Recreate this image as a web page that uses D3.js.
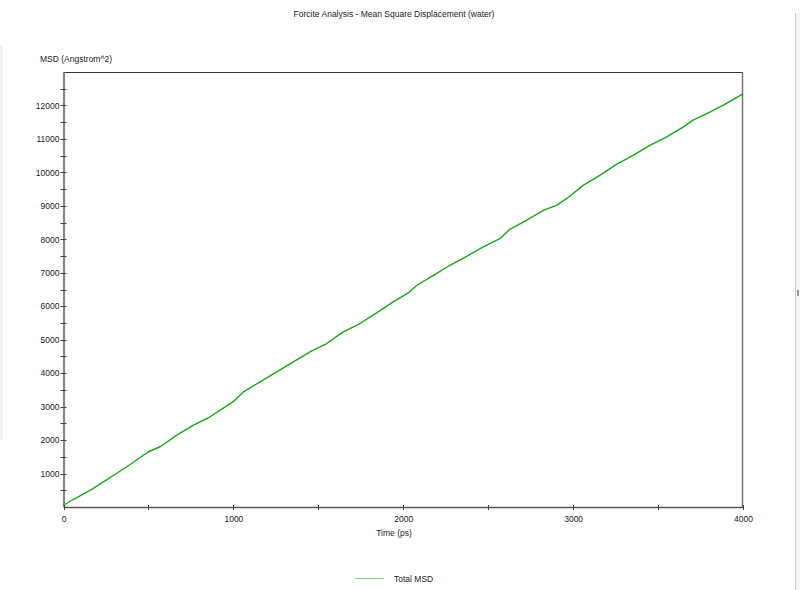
<!DOCTYPE html>
<html>
<head>
<meta charset="utf-8">
<script src="https://cdn.jsdelivr.net/npm/d3@7"></script>
<style>
  html, body { margin: 0; padding: 0; background: #fff; }
  svg text { font-family: "Liberation Sans", Arial, sans-serif; font-size: 8.5px; fill: #222; }
</style>
</head>
<body>
<div id="chart"></div>
<script>
(function(){
  "use strict";

  // values (time in ps, MSD in Angstrom^2)
  const timePs = [0, 176, 373, 500, 569, 667, 765, 863, 961, 1000, 1059, 1157, 1255, 1353,
                  1451, 1549, 1647, 1745, 1843, 1941, 2030, 2080, 2178, 2275, 2373, 2471,
                  2569, 2627, 2725, 2824, 2902, 2961, 3059, 3157, 3255, 3353, 3451, 3549,
                  3647, 3706, 3784, 3882, 4000];
  const msd = [60, 558, 1203, 1651, 1800, 2149, 2448, 2696, 3020, 3150, 3440, 3741, 4040, 4338,
               4637, 4886, 5234, 5483, 5801, 6129, 6398, 6627, 6925, 7224, 7493, 7771,
               8020, 8300, 8567, 8866, 9015, 9214, 9612, 9910, 10240, 10507, 10806, 11055,
               11353, 11560, 11751, 12000, 12349];

  const xTicks = [0, 1000, 2000, 3000, 4000];
  const xMinor = [500, 1500, 2500, 3500];
  const yTicks = [1000, 2000, 3000, 4000, 5000, 6000, 7000, 8000, 9000, 10000, 11000, 12000];
  const yMinor = [500, 1500, 2500, 3500, 4500, 5500, 6500, 7500, 8500, 9500, 10500, 11500, 12500];

  const title = "Forcite Analysis - Mean Square Displacement (water)";
  const xLabel = "Time (ps)";
  const yLabel = "MSD (Angstrom^2)";
  const seriesName = "Total MSD";

  const W = 800, H = 590;
  const plot = {left: 63.5, right: 743, top: 72, bottom: 507};

  const svg = d3.select("#chart").append("svg")
    .attr("width", W).attr("height", H);

  const x = d3.scaleLinear().domain([0, 4000]).range([plot.left, plot.right]);
  const y = d3.scaleLinear().domain([0, 13000]).range([plot.bottom, plot.top]);

  // window edge bits seen in the screenshot
  svg.append("rect").attr("x", 0).attr("y", 45).attr("width", 3).attr("height", 395).attr("fill", "#f3f3f3");
  svg.append("line").attr("x1", 795.5).attr("x2", 795.5).attr("y1", 13).attr("y2", H)
    .attr("stroke", "#c8c8c8").attr("stroke-width", 1);
  svg.append("rect").attr("x", 796).attr("y", 13).attr("width", 4).attr("height", H - 13).attr("fill", "#f4f4f4");
  svg.append("rect").attr("x", 797).attr("y", 290).attr("width", 2).attr("height", 6).attr("fill", "#999");

  // frame top and right
  svg.append("line").attr("x1", plot.left).attr("x2", plot.right)
    .attr("y1", plot.top + 0.5).attr("y2", plot.top + 0.5)
    .attr("stroke", "#333").attr("stroke-width", 1);
  svg.append("line").attr("x1", plot.right - 0.5).attr("x2", plot.right - 0.5)
    .attr("y1", plot.top).attr("y2", plot.bottom)
    .attr("stroke", "#777").attr("stroke-width", 1.5);

  // y axis
  const yAxis = d3.axisLeft(y).tickValues(yTicks).tickFormat(d3.format("d")).tickSize(0).tickPadding(4);
  const gy = svg.append("g").attr("transform", `translate(${plot.left},0)`).call(yAxis);
  gy.select(".domain").attr("stroke", "#888").attr("stroke-width", 2.2);
  gy.selectAll("text").style("font-size", "8.5px").attr("fill", "#222");
  svg.append("g").selectAll("line").data(yTicks.concat(yMinor)).enter().append("line")
    .attr("x1", plot.left - 3).attr("x2", plot.left + 3)
    .attr("y1", d => Math.round(y(d)) + 0.5).attr("y2", d => Math.round(y(d)) + 0.5)
    .attr("stroke", "#444").attr("stroke-width", 1);

  // x axis
  const xAxis = d3.axisBottom(x).tickValues(xTicks).tickFormat(d3.format("d")).tickSize(0).tickPadding(9);
  const gx = svg.append("g").attr("transform", `translate(0,${plot.bottom})`).call(xAxis);
  gx.select(".domain").attr("stroke", "#555").attr("stroke-width", 1.5);
  gx.selectAll("text").style("font-size", "8.5px").attr("fill", "#222");
  svg.append("g").selectAll("line").data(xTicks.concat(xMinor)).enter().append("line")
    .attr("x1", d => Math.round(x(d)) + 0.5).attr("x2", d => Math.round(x(d)) + 0.5)
    .attr("y1", plot.bottom - 2).attr("y2", plot.bottom + 3)
    .attr("stroke", "#444").attr("stroke-width", 1);

  // series
  const pts = timePs.map((t, i) => [t, msd[i]]);
  const line = d3.line().x(d => x(d[0])).y(d => y(d[1]));
  svg.append("path").datum(pts)
    .attr("d", line)
    .attr("fill", "none")
    .attr("stroke", "#14a814")
    .attr("stroke-width", 1.4)
    .attr("stroke-linejoin", "round");

  // texts
  svg.append("text").attr("x", 394).attr("y", 17).attr("text-anchor", "middle").text(title);
  svg.append("text").attr("x", 40).attr("y", 62).text(yLabel);
  svg.append("text").attr("x", 394).attr("y", 536).attr("text-anchor", "middle").text(xLabel);

  // legend
  const leg = svg.append("g").attr("transform", "translate(355,578.5)");
  leg.append("line").attr("x1", 0).attr("x2", 29).attr("y1", 0).attr("y2", 0)
    .attr("stroke", "#7dd27d").attr("stroke-width", 1);
  leg.append("line").attr("x1", 14.5).attr("x2", 14.5).attr("y1", -1).attr("y2", 1)
    .attr("stroke", "#7dd27d").attr("stroke-width", 1);
  leg.append("text").attr("x", 39).attr("y", 3).text(seriesName);
})();
</script>
</body>
</html>
